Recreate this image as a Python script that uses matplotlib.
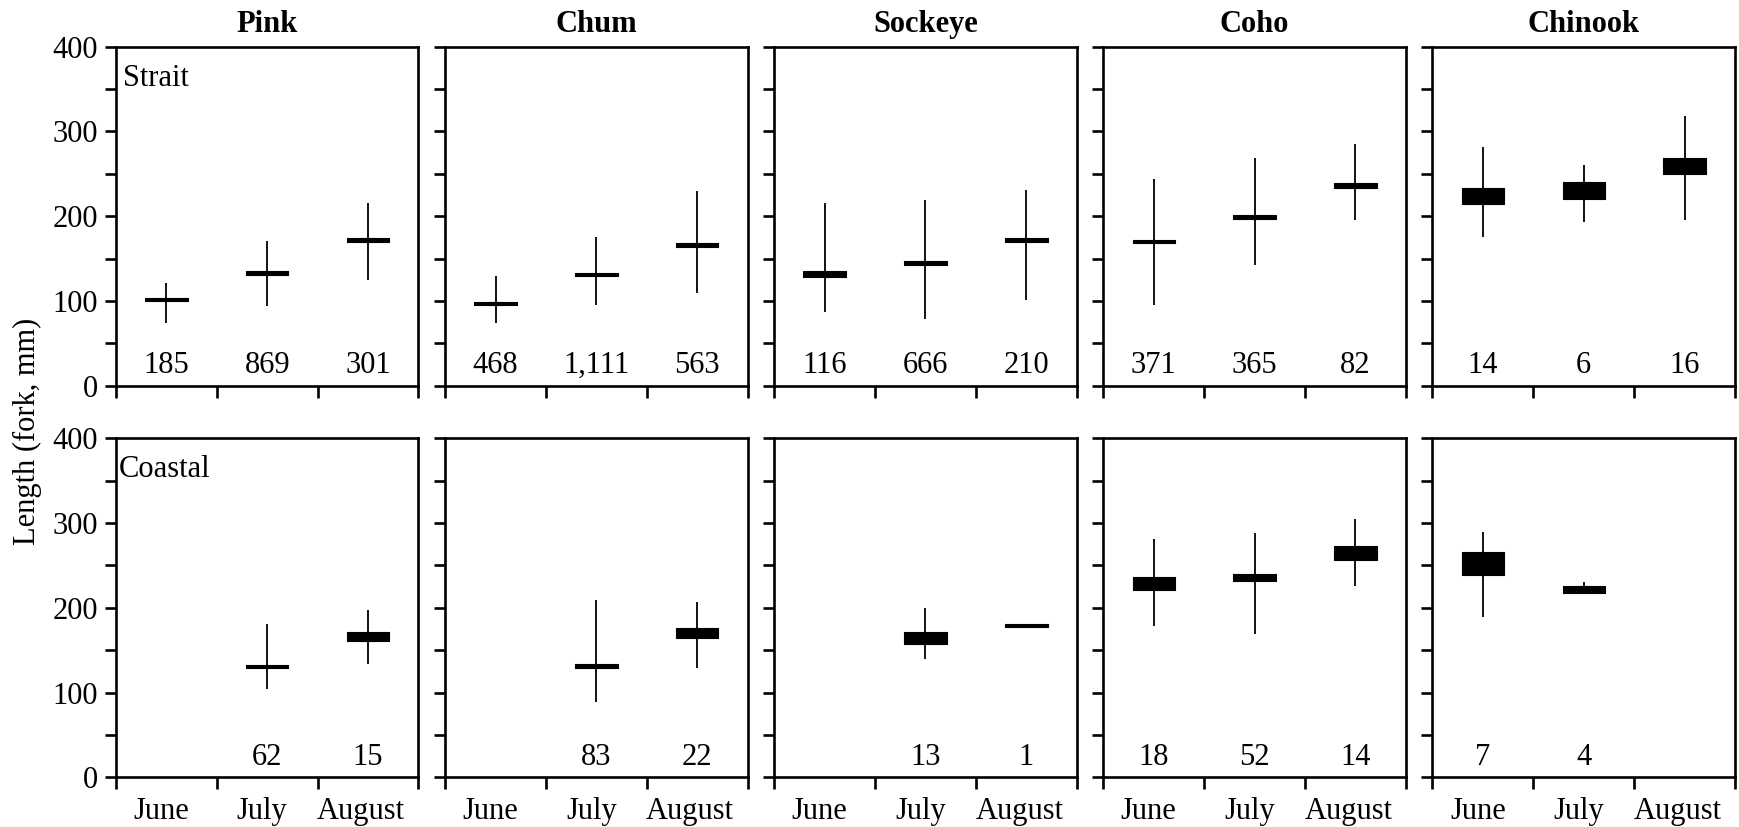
import matplotlib
matplotlib.use("Agg")
import matplotlib.pyplot as plt
from matplotlib.ticker import FuncFormatter

species = ["Pink", "Chum", "Sockeye", "Coho", "Chinook"]
regions = ["Strait", "Coastal"]
months = ["June", "July", "August"]

# per species: June, July, August  (None = no fish caught / single fish)
strait_min = [[74, 94, 125], [74, 95, 110], [87, 79, 101], [95, 142, 195.5], [175, 193.5, 195.5]]
strait_max = [[121, 171, 216], [129, 175, 230], [216, 219, 231], [244, 269, 285], [282, 260, 318]]
strait_box_lo = [[100, 131, 170], [95, 129.5, 163.5], [128.5, 143, 169.5], [168, 196.5, 233], [214.5, 220, 249.5]]
strait_box_hi = [[104, 135.5, 174], [98.5, 133.5, 168], [135.5, 147, 174], [172.5, 201, 239.5], [233, 240.5, 269]]
strait_n = [["185", "869", "301"], ["468", "1,111", "563"], ["116", "666", "210"],
            ["371", "365", "82"], ["14", "6", "16"]]

coastal_min = [[None, 104, 134], [None, 89, 128.5], [None, 140, None], [178.5, 169, 226], [189.5, 218, None]]
coastal_max = [[None, 181, 197], [None, 209, 206.5], [None, 199.5, None], [281, 288.5, 305], [289.5, 230, None]]
coastal_box_lo = [[None, 128.5, 161], [None, 129, 164], [None, 157.5, 177], [220.5, 231.5, 257], [238.5, 218, None]]
coastal_box_hi = [[None, 133, 172], [None, 133.5, 176], [None, 171, 180.5], [236, 240, 273.5], [266, 225.5, None]]
coastal_n = [[None, "62", "15"], [None, "83", "22"], [None, "13", "1"],
             ["18", "52", "14"], ["7", "4", None]]

plt.rcParams['font.family'] = 'serif'
plt.rcParams['font.serif'] = ['Liberation Serif', 'DejaVu Serif']
FS = 22

fig, axes = plt.subplots(2, 5, figsize=(17.39, 8.27), dpi=100)
plt.subplots_adjust(left=0.0667, right=0.9977, top=0.9435, bottom=0.06,
                    wspace=0.088, hspace=0.155)

rows = [
    (strait_min, strait_max, strait_box_lo, strait_box_hi, strait_n),
    (coastal_min, coastal_max, coastal_box_lo, coastal_box_hi, coastal_n),
]

for r, (mins, maxs, blo, bhi, ns) in enumerate(rows):
    for c in range(5):
        ax = axes[r, c]
        for m in range(3):
            x = m + 0.5
            if mins[c][m] is not None:
                ax.vlines(x, mins[c][m], maxs[c][m], color="black", lw=1.3)
            if blo[c][m] is not None:
                ax.bar(x, bhi[c][m] - blo[c][m], bottom=blo[c][m], width=0.42,
                       color="black", edgecolor="black", lw=0.8, joinstyle="round")
            if ns[c][m] is not None:
                ax.text(x, 15, ns[c][m], ha="center", va="baseline", fontsize=FS)

        ax.set_xlim(0, 3)
        ax.set_ylim(0, 400)
        for sp in ax.spines.values():
            sp.set_linewidth(1.9)

        ax.set_yticks(range(0, 401, 50))
        if c == 0:
            ax.yaxis.set_major_formatter(FuncFormatter(lambda v, p: "%d" % v if v % 100 == 0 else ""))
        else:
            ax.set_yticklabels([])
        ax.tick_params(axis="y", direction="out", length=8, width=1.9, pad=5, labelsize=FS)

        ax.set_xticks([0, 1, 2, 3])
        ax.set_xticklabels([])
        ax.tick_params(axis="x", which="major", direction="out", length=8.5, width=1.9)
        if r == 1:
            ax.set_xticks([0.45, 1.45, 2.43], minor=True)
            ax.set_xticklabels(months, minor=True)
            ax.tick_params(axis="x", which="minor", length=0, pad=14, labelsize=FS)

        if r == 0:
            ax.set_title(species[c], fontweight="bold", fontsize=FS, pad=10.5)
        if c == 0:
            ax.text(0.022 if r == 0 else 0.01, 0.885, regions[r], transform=ax.transAxes,
                    ha="left", va="baseline", fontsize=FS)

fig.text(0.016, 0.478, "Length (fork, mm)", rotation=90, ha="center", va="center", fontsize=FS)

plt.savefig("out.png", dpi=100)
